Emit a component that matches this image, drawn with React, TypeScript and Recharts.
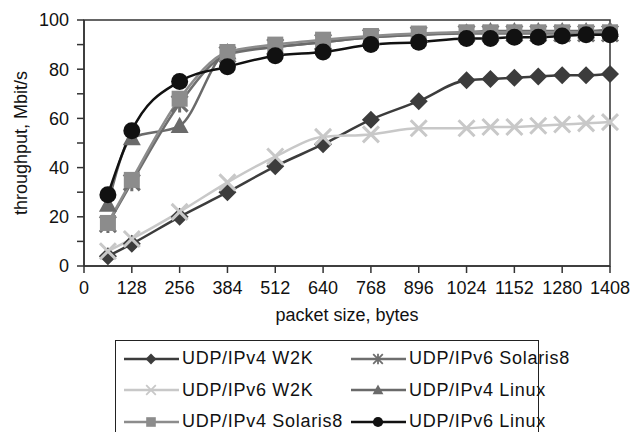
import React from "react";
import { LineChart, Line, XAxis, YAxis, ReferenceArea } from "recharts";

// packet sizes (bytes) measured
const sizes = [64, 128, 256, 384, 512, 640, 768, 896, 1024, 1088, 1152, 1216, 1280, 1344, 1408];

// throughput, Mbit/s
const ipv4W2K = [4, 9, 20, 30, 40.5, 49.5, 59.5, 67, 75.5, 76, 76.5, 77, 77.5, 77.5, 78];
const ipv6Solaris = [17, 34, 66, 86, 89, 91, 93, 94, 94.5, 94.5, 94.5, 94.5, 94.5, 94.5, 94.5];
const ipv6W2K = [6, 11, 22, 34, 44.5, 52.5, 53.5, 56, 56, 56.5, 56.5, 57, 57.5, 58, 58.5];
const ipv4Linux = [25, 52, 57, 87, 89, 91, 93, 94, 95, 95.5, 95.5, 95.5, 95.5, 95.5, 96];
const ipv4Solaris = [17.5, 35, 68, 87, 90, 92, 93.5, 94.5, 95, 95, 95, 95, 95, 95, 95];
const ipv6Linux = [29, 55, 75, 81, 85.5, 87, 90, 91, 92.5, 92.5, 93, 93, 93.5, 94, 94];

const xTicks = [0, 128, 256, 384, 512, 640, 768, 896, 1024, 1152, 1280, 1408];
const yTicks = [0, 10, 20, 30, 40, 50, 60, 70, 80, 90, 100];

const data = sizes.map((s, i) => ({
  size: s,
  w2k4: ipv4W2K[i],
  sol6: ipv6Solaris[i],
  w2k6: ipv6W2K[i],
  lin4: ipv4Linux[i],
  sol4: ipv4Solaris[i],
  lin6: ipv6Linux[i],
}));

type Shape = "diamond" | "star" | "cross" | "triangle" | "square" | "circle";

function Marker({ shape, cx, cy, color, s = 1 }: { shape: Shape; cx: number; cy: number; color: string; s?: number }) {
  switch (shape) {
    case "diamond": {
      const r = 9 * s;
      return <path d={`M${cx},${cy - r}L${cx + r},${cy}L${cx},${cy + r}L${cx - r},${cy}Z`} fill={color} />;
    }
    case "square": {
      const r = 8 * s;
      return <rect x={cx - r} y={cy - r} width={2 * r} height={2 * r} fill={color} />;
    }
    case "triangle": {
      const r = 9 * s;
      return <path d={`M${cx},${cy - r}L${cx + r},${cy + r * 0.8}L${cx - r},${cy + r * 0.8}Z`} fill={color} />;
    }
    case "circle":
      return <circle cx={cx} cy={cy} r={8.5 * s} fill={color} />;
    case "cross": {
      const r = 8 * s;
      return (
        <path d={`M${cx - r},${cy - r}L${cx + r},${cy + r}M${cx + r},${cy - r}L${cx - r},${cy + r}`} stroke={color} strokeWidth={3 * s} />
      );
    }
    case "star": {
      const r = 8 * s;
      return (
        <path
          d={`M${cx - r},${cy - r}L${cx + r},${cy + r}M${cx + r},${cy - r}L${cx - r},${cy + r}M${cx},${cy - r * 1.1}L${cx},${cy + r * 1.1}`}
          stroke={color}
          strokeWidth={3 * s}
        />
      );
    }
  }
  return null;
}

const series: { key: string; name: string; color: string; shape: Shape }[] = [
  { key: "w2k4", name: "UDP/IPv4 W2K", color: "#3c3c3c", shape: "diamond" },
  { key: "sol6", name: "UDP/IPv6 Solaris8", color: "#6e6e6e", shape: "star" },
  { key: "w2k6", name: "UDP/IPv6 W2K", color: "#c8c8c8", shape: "cross" },
  { key: "lin4", name: "UDP/IPv4 Linux", color: "#6a6a6a", shape: "triangle" },
  { key: "sol4", name: "UDP/IPv4 Solaris8", color: "#8c8c8c", shape: "square" },
  { key: "lin6", name: "UDP/IPv6 Linux", color: "#111111", shape: "circle" },
];

const font = "'Liberation Sans', Arial, sans-serif";

function LegendItem({ name, color, shape }: { name: string; color: string; shape: Shape }) {
  return (
    <div style={{ display: "flex", alignItems: "center", height: 29 }}>
      <svg width={56} height={20} style={{ flex: "none" }}>
        <line x1={0} y1={10} x2={55} y2={10} stroke={color} strokeWidth={2.5} />
        <Marker shape={shape} cx={27} cy={10} color={color} s={0.6} />
      </svg>
      <span style={{ marginLeft: 2, fontSize: 18, letterSpacing: 0.7, color: "#111", whiteSpace: "nowrap" }}>{name}</span>
    </div>
  );
}

export default function App() {
  return (
    <div style={{ position: "absolute", left: 0, top: 0, width: 642, height: 432, overflow: "hidden", background: "#fff", fontFamily: font }}>
      <LineChart width={642} height={432} data={data} margin={{ top: 20, right: 32, left: 40, bottom: 116 }}>
        <ReferenceArea x1={0} x2={1408} y1={0} y2={100} fill="none" stroke="#333" strokeWidth={1.5} ifOverflow="visible" />
        <XAxis
          dataKey="size"
          type="number"
          domain={[0, 1408]}
          ticks={xTicks}
          interval={0}
          height={50}
          tickSize={7}
          tickMargin={8}
          tickLine={{ stroke: "#333", strokeWidth: 1.5 }}
          axisLine={{ stroke: "#333", strokeWidth: 1.5 }}
          tick={{ fontSize: 18, fill: "#111", fontFamily: font }}
          label={{ value: "packet size, bytes", position: "insideBottom", offset: -5, fontSize: 18, fill: "#111", fontFamily: font }}
        />
        <YAxis
          type="number"
          domain={[0, 100]}
          ticks={yTicks}
          interval={0}
          width={44}
          tickSize={7}
          tickMargin={8}
          tickLine={{ stroke: "#333", strokeWidth: 1.5 }}
          axisLine={{ stroke: "#333", strokeWidth: 1.5 }}
          tickFormatter={(v: number) => (v % 20 === 0 ? String(v) : "")}
          tick={{ fontSize: 18, fill: "#111", fontFamily: font }}
          label={{ value: "throughput, Mbit/s", angle: -90, position: "insideLeft", offset: -19, fontSize: 18, fill: "#111", fontFamily: font, style: { textAnchor: "middle" } }}
        />
        {series.map((s) => (
          <Line
            key={s.key}
            dataKey={s.key}
            name={s.name}
            type="monotone"
            stroke={s.color}
            strokeWidth={2.5}
            isAnimationActive={false}
            dot={(p: any) => <Marker key={`${s.key}-${p.index}`} shape={s.shape} cx={p.cx} cy={p.cy} color={s.color} />}
            activeDot={false}
          />
        ))}
      </LineChart>
      <div
        style={{
          position: "absolute",
          left: 115,
          top: 340,
          width: 424,
          height: 100,
          border: "1.5px solid #222",
          boxSizing: "border-box",
          display: "grid",
          gridTemplateColumns: "227px 190px",
          paddingTop: 3,
          paddingLeft: 8,
        }}
      >
        {series.map((s) => (
          <LegendItem key={s.key} name={s.name} color={s.color} shape={s.shape} />
        ))}
      </div>
    </div>
  );
}
